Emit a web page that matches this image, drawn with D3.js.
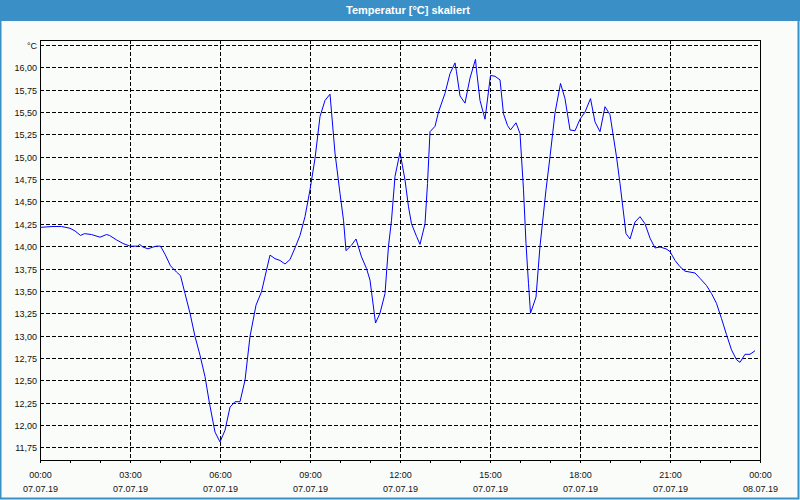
<!DOCTYPE html>
<html>
<head>
<meta charset="utf-8">
<script src="https://cdn.jsdelivr.net/npm/d3@7"></script>
<style>
  html, body { margin: 0; padding: 0; background: #fafcfa; }
  svg { display: block; }
  text { font-family: "Liberation Sans", Arial, sans-serif; }
</style>
</head>
<body>
<script>
// ---- data ----
const title = "Temperatur [°C] skaliert";
const unitLabel = "°C";
const times = ["00:00","00:26","00:43","01:00","01:10","01:21","01:29","01:43","02:00","02:13","02:19","02:33","02:46","03:00","03:16","03:19","03:26","03:36","03:46","03:53","04:01","04:10","04:21","04:33","04:41","04:50","05:00","05:10","05:20","05:30","05:39","05:50","06:00","06:10","06:20","06:30","06:40","06:50","07:00","07:12","07:23","07:40","07:50","08:00","08:10","08:20","08:30","08:40","08:50","09:00","09:10","09:20","09:30","09:40","09:50","10:00","10:07","10:12","10:23","10:32","10:43","10:53","11:00","11:11","11:20","11:30","11:37","11:43","11:50","12:00","12:10","12:17","12:23","12:33","12:40","12:50","12:55","13:00","13:10","13:17","13:30","13:40","13:50","13:53","14:00","14:10","14:20","14:31","14:33","14:40","14:50","15:01","15:10","15:20","15:27","15:35","15:41","15:52","16:00","16:07","16:12","16:17","16:21","16:32","16:40","16:52","17:00","17:10","17:21","17:30","17:40","17:50","18:00","18:10","18:21","18:30","18:40","18:50","19:00","19:13","19:20","19:32","19:40","19:50","20:00","20:10","20:20","20:30","20:40","20:52","21:00","21:10","21:20","21:30","21:40","21:50","22:00","22:13","22:23","22:33","22:43","22:53","23:03","23:13","23:20","23:30","23:40","23:50"];
const temps = [14.21,14.22,14.22,14.20,14.17,14.12,14.14,14.13,14.10,14.13,14.12,14.07,14.03,14.00,14.00,14.02,13.99,13.97,13.99,14.00,14.00,13.91,13.78,13.71,13.67,13.47,13.25,12.99,12.78,12.54,12.24,11.92,11.81,11.94,12.20,12.26,12.26,12.50,12.99,13.34,13.49,13.90,13.86,13.84,13.80,13.85,13.98,14.12,14.33,14.63,14.98,15.45,15.63,15.70,15.04,14.59,14.29,13.95,14.01,14.08,13.88,13.75,13.62,13.14,13.25,13.47,14.00,14.29,14.78,15.05,14.74,14.44,14.25,14.11,14.02,14.25,14.70,15.28,15.34,15.50,15.71,15.93,16.05,15.95,15.68,15.60,15.88,16.09,15.97,15.63,15.42,15.91,15.90,15.86,15.48,15.35,15.30,15.38,15.26,14.63,14.03,13.58,13.25,13.43,14.00,14.63,15.00,15.49,15.82,15.65,15.30,15.29,15.42,15.50,15.65,15.39,15.28,15.56,15.47,15.00,14.70,14.14,14.08,14.27,14.33,14.25,14.09,13.98,13.99,13.97,13.94,13.84,13.77,13.72,13.71,13.70,13.64,13.56,13.47,13.36,13.19,13.01,12.84,12.73,12.70,12.79,12.79,12.83];
const day = "2019-07-07";
const dayEnd = "2019-07-08";
const yTicks = [11.75,12.00,12.25,12.50,12.75,13.00,13.25,13.50,13.75,14.00,14.25,14.50,14.75,15.00,15.25,15.50,15.75,16.00,16.25];
const xTickLabels = ["00:00","03:00","06:00","09:00","12:00","15:00","18:00","21:00","00:00"];
const xDateLabels = ["07.07.19","07.07.19","07.07.19","07.07.19","07.07.19","07.07.19","07.07.19","07.07.19","08.07.19"];

// ---- layout ----
const W = 800, H = 500;
const L = 40, R = 760, T = 40, B = 460;
const parse = d3.timeParse("%Y-%m-%d %H:%M");
const t0 = parse(day + " 00:00"), t1 = parse(dayEnd + " 00:00");
const data = times.map((t, i) => ({ t: parse(day + " " + t), v: temps[i] }));

const x = d3.scaleTime().domain([t0, t1]).range([L, R]);
const y = d3.scaleLinear().domain([11.75, 16.25]).range([447.3, 45]);

const svg = d3.select("body").append("svg").attr("width", W).attr("height", H);

// background & frame
svg.append("rect").attr("x", 0).attr("y", 0).attr("width", W).attr("height", H).attr("fill", "#fafcfa");
svg.append("rect").attr("x", 0).attr("y", 0).attr("width", W).attr("height", 21).attr("fill", "#3b8fc7");
svg.append("path").attr("d", `M0.5,21 V498.5 H798.5 V21`).attr("fill", "none").attr("stroke", "#3b8fc7").attr("stroke-width", 2);
svg.append("text").attr("x", W / 2 + 8).attr("y", 13.5).attr("text-anchor", "middle")
  .attr("fill", "#ffffff").attr("font-weight", "bold").attr("font-size", "11px")
  .text(title);

// horizontal grid
const gridH = svg.append("g").attr("shape-rendering", "crispEdges");
gridH.selectAll("line").data(yTicks).join("line")
  .attr("x1", L).attr("x2", R)
  .attr("y1", d => Math.round(y(d)) + 0.5).attr("y2", d => Math.round(y(d)) + 0.5)
  .attr("stroke", "#000").attr("stroke-dasharray", "4,2");

// vertical grid (every 3 hours)
const hourTicks = d3.timeHour.every(1).range(t0, d3.timeMinute.offset(t1, 1));
const majorTicks = d3.timeHour.every(3).range(t0, d3.timeMinute.offset(t1, 1));
const gridV = svg.append("g").attr("shape-rendering", "crispEdges");
gridV.selectAll("line").data(majorTicks.slice(1, -1)).join("line")
  .attr("x1", d => Math.round(x(d)) + 0.5).attr("x2", d => Math.round(x(d)) + 0.5)
  .attr("y1", T).attr("y2", B)
  .attr("stroke", "#000").attr("stroke-dasharray", "4,2");

// frame of plot
svg.append("path").attr("d", `M${L + 0.5},${B + 2} V${T + 0.5} H${R + 0.5} V${B + 0.5} H${L}`)
  .attr("fill", "none").attr("stroke", "#000").attr("shape-rendering", "crispEdges");

// x axis ticks
svg.append("g").attr("shape-rendering", "crispEdges").selectAll("line").data(hourTicks).join("line")
  .attr("x1", d => Math.round(x(d)) + 0.5).attr("x2", d => Math.round(x(d)) + 0.5)
  .attr("y1", B).attr("y2", B + 3).attr("stroke", "#000");

// x labels
const xl = svg.append("g").attr("font-size", "9px").attr("fill", "#111").attr("text-anchor", "middle");
xl.selectAll("text.t").data(majorTicks).join("text").attr("class", "t")
  .attr("x", d => x(d) + 0.5).attr("y", 478).text((d, i) => xTickLabels[i]);
xl.selectAll("text.d").data(majorTicks).join("text").attr("class", "d")
  .attr("x", d => x(d) + 0.5).attr("y", 492).text((d, i) => xDateLabels[i]);

// y labels
const yl = svg.append("g").attr("font-size", "9px").attr("fill", "#111").attr("text-anchor", "end");
yl.selectAll("text").data(yTicks).join("text")
  .attr("x", 37).attr("y", d => Math.round(y(d)) + 3.5)
  .text(d => d === 16.25 ? unitLabel : d3.format(".2f")(d).replace(".", ","));

// line
const line = d3.line().x(d => x(d.t)).y(d => y(d.v));
svg.append("path").datum(data).attr("d", line)
  .attr("fill", "none").attr("stroke", "#0000ff").attr("stroke-width", 1);
</script>
</body>
</html>
